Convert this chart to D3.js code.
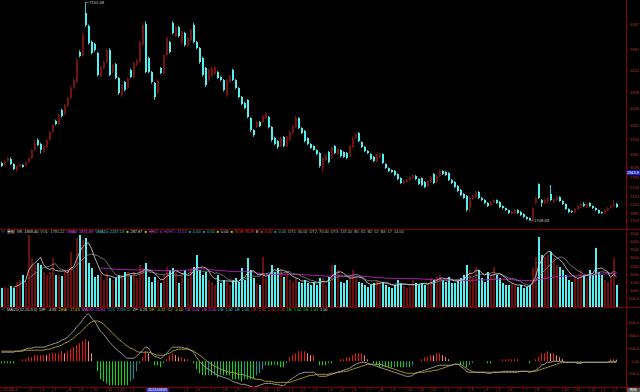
<!DOCTYPE html>
<html><head><meta charset="utf-8">
<script src="https://cdn.jsdelivr.net/npm/d3@7"></script>
<style>html,body{margin:0;padding:0;background:#000;overflow:hidden}text{font-family:'Liberation Sans Narrow','Liberation Sans','Noto Sans CJK SC',sans-serif}</style>
</head><body>
<svg id="c" width="640" height="392"></svg>
<script>
// ---------------- DATA (weekly candles) ----------------
const opens=[3148,3098,3198,3248,3123,2974,3073,3098,3073,3173,
3273,3472,3721,3622,3422,3547,3721,3921,4195,4120,
4469,4369,4568,4768,5017,5167,5914,5814,6886,6562,
6163,6114,5889,5316,5515,5665,5964,5416,5615,5266,
4843,5167,5017,5466,5291,5590,5665,6089,6612,5765,
5416,5142,4892,5515,5391,5839,6163,6637,6313,6537,
6138,6388,6064,6213,6587,6163,6014,5765,5515,5216,
5316,5366,5416,5291,5216,4843,5167,5466,5216,5017,
4793,4643,4718,4269,3970,4045,4170,4170,4269,4294,
4045,3771,3696,3572,3796,3572,3721,3896,4045,4269,
4020,3945,3771,3622,3572,3472,3397,3023,3223,3422,
3273,3572,3372,3472,3422,3397,3322,3547,3771,3896,
3671,3547,3447,3372,3298,3198,3298,3372,3123,3023,
2974,2949,2874,2774,2650,2675,2724,2774,2824,2749,
2774,2675,2575,2675,2874,2675,2824,2949,2924,2899,
2724,2675,2575,2475,2376,2326,2027,2251,2301,2425,
2276,2226,2151,2101,2176,2226,2176,2076,2027,1977,
1877,1902,1977,1927,1877,1802,1777,1728,2151,2625,
2226,2151,2176,2376,2176,2226,2301,2201,2126,2002,
1952,1927,2002,2052,2126,2052,2151,2076,2027,1977,
1927,1902,1977,2027,2076,2126];
const closes=[3073,3198,3273,3123,2999,3073,3123,3048,3173,3273,
3472,3646,3597,3472,3572,3721,3921,4095,4120,4344,
4319,4593,4768,5017,5216,5715,5814,6338,6587,6138,
5889,5964,5341,5540,5665,5964,5341,5590,5266,4892,
5092,4967,5266,5291,5640,5715,6163,6587,5416,5416,
5167,4793,5216,5391,5839,6263,5914,6388,6537,6313,
6413,6089,6263,6462,6163,6014,5665,5341,5092,5466,
5515,5540,5266,5216,4967,5216,5316,5216,5017,4793,
4618,4519,4294,3970,3846,4170,4070,4319,4394,4045,
3721,3622,3547,3771,3572,3796,3921,4070,4269,4020,
3896,3696,3622,3522,3472,3372,3073,3273,3347,3173,
3522,3397,3497,3322,3298,3273,3572,3771,3871,3696,
3547,3447,3397,3248,3198,3347,3372,3148,3023,2949,
2924,2849,2749,2650,2699,2724,2799,2849,2749,2625,
2600,2550,2699,2799,2650,2824,2949,2874,2849,2724,
2650,2550,2450,2351,2276,1977,2276,2326,2425,2276,
2226,2151,2076,2176,2226,2151,2052,2027,1977,1902,
1927,1977,1902,1852,1802,1753,1728,2027,2276,2276,
2151,2226,2276,2226,2251,2301,2201,2126,2002,1927,
1927,2002,2076,2126,2076,2126,2076,2027,1977,1902,
1902,1977,2027,2076,2126,2052];
const highs=[3180,3220,3300,3290,3140,3090,3140,3120,3190,3290,
3500,3720,3760,3650,3600,3740,3950,4120,4230,4370,
4500,4620,4800,5060,5260,5760,5960,6400,7151.08,6600,
6200,6150,5920,5570,5700,6000,6010,5620,5640,5290,
5120,5190,5290,5500,5670,5740,6190,6640,6680,5800,
5440,5170,5240,5540,5870,6290,6190,6680,6570,6560,
6440,6420,6290,6500,6640,6190,6040,5800,5540,5500,
5550,5570,5440,5310,5240,5240,5340,5500,5240,5040,
4820,4670,4740,4290,3990,4200,4190,4350,4420,4320,
4070,3800,3720,3800,3820,3830,3960,4100,4330,4290,
4040,3970,3790,3640,3590,3490,3420,3300,3370,3450,
3550,3600,3520,3490,3440,3420,3600,3810,3900,3920,
3690,3570,3470,3390,3320,3380,3400,3390,3140,3040,
2990,2970,2890,2790,2720,2750,2820,2880,2850,2770,
2790,2700,2720,2830,2900,2850,2990,2970,2950,2920,
2750,2700,2600,2500,2400,2350,2300,2350,2460,2450,
2300,2250,2170,2200,2250,2240,2200,2090,2040,1990,
1950,2000,2000,1950,1890,1820,1790,2050,2300,2640,
2250,2250,2300,2600,2270,2330,2320,2220,2140,2020,
1970,2020,2100,2150,2180,2150,2170,2090,2040,1990,
1940,2000,2050,2100,2226,2150];
const lows=[3050,3080,3180,3100,2970,2930,3050,3030,3060,3160,
3250,3450,3570,3380,3400,3520,3700,3900,4090,4100,
4280,4340,4540,4740,4990,5140,5780,5790,6540,6100,
5850,5920,5300,5290,5490,5640,5310,5380,5230,4850,
4790,4930,4990,5260,5260,5560,5640,6060,5390,5380,
5130,4720,4860,5360,5360,5810,5880,6350,6290,6280,
6100,6050,6030,6190,6130,5980,5620,5300,5040,5190,
5290,5340,5240,5190,4930,4790,5140,5190,4990,4760,
4590,4490,4260,3920,3800,4020,4040,4140,4240,4010,
3680,3590,3500,3540,3540,3540,3690,3870,4010,3990,
3870,3660,3590,3500,3450,3340,3030,2924,3200,3140,
3250,3370,3350,3290,3270,3240,3300,3520,3750,3670,
3520,3420,3370,3220,3170,3170,3270,3120,3000,2920,
2900,2820,2720,2620,2620,2650,2700,2750,2720,2600,
2570,2520,2550,2650,2620,2650,2800,2850,2820,2700,
2620,2520,2420,2320,2250,1940,1930,2230,2280,2250,
2200,2130,2050,2080,2150,2130,2030,2000,1950,1880,
1860,1880,1880,1830,1780,1730,1708.63,1715,2120,2250,
2050,2130,2150,2200,2150,2200,2180,2100,1980,1900,
1900,1910,1980,2030,2050,2030,2050,2000,1950,1880,
1880,1880,1960,2010,2050,2030];
const volumes=[1166,1227,1166,1289,1166,1534,1656,1963,1534,4417,
3006,2577,2699,2577,2147,1963,2147,3006,1963,1963,
1902,2270,2393,3374,2270,4233,4417,4110,4233,2699,
2393,1841,1963,2086,1656,2086,1779,1656,1779,1963,
1963,2147,2147,1963,2147,1779,2577,2393,2699,1841,
1534,1841,1656,1472,1963,2454,2270,2393,2147,1472,
1963,2270,1779,2393,2454,3190,2270,1963,2147,1656,
1534,1350,1963,1472,1656,1534,1350,1656,1779,1534,
2393,1656,3006,2270,1779,1472,1350,3068,1779,1963,
2577,2147,2393,2270,1841,2147,1656,1534,1779,1534,
1472,1656,1472,1350,1534,1350,1779,1779,1350,1841,
2577,2577,2270,1534,1472,1656,1963,2270,1779,1534,
1472,1350,1227,1350,1472,1656,1534,1534,1350,1227,
1166,1350,1656,1472,1350,1166,1227,1656,1472,1350,
1472,1350,1472,1779,1656,1841,1963,1656,1534,1841,
1472,1472,1656,1779,1963,2577,2270,1779,2454,2270,
1779,1534,2147,1963,2454,1963,1779,1472,1350,1350,
1472,1350,1227,1350,1166,1227,1350,2393,3068,4294,
3190,3068,3190,3374,3006,2577,2454,2270,1963,1656,
1534,1841,1779,2270,1963,1779,2270,1963,3620,2147,
1963,1656,1534,1779,3006,1350];
const difValues=[142,142,142,142,142,158,158,173,189,205,
205,221,221,221,221,236,252,268,284,299,
331,347,378,425,472,536,583,646,709,740,
677,630,551,472,425,362,299,252,205,158,
126,79,47,47,47,79,126,173,221,205,
126,79,63,47,79,126,173,221,221,221,
221,205,205,173,142,63,0,-47,-95,-126,
-158,-189,-221,-236,-252,-268,-284,-315,-331,-347,
-362,-362,-378,-394,-410,-394,-378,-362,-347,-347,
-347,-362,-362,-378,-378,-347,-299,-268,-236,-205,
-189,-173,-173,-173,-173,-205,-236,-236,-236,-221,
-205,-189,-173,-158,-142,-126,-110,-79,-47,-32,
-16,-16,-32,-47,-63,-79,-95,-110,-126,-142,
-158,-173,-189,-205,-221,-236,-236,-221,-189,-173,
-158,-142,-126,-110,-95,-79,-63,-63,-63,-63,
-63,-47,-47,-79,-110,-158,-173,-173,-173,-173,
-173,-173,-189,-189,-173,-173,-173,-158,-158,-158,
-158,-158,-158,-158,-158,-158,-173,-158,-142,-110,
-63,-47,-16,-16,0,0,0,0,-16,-16,
-16,-16,-32,-32,-16,-16,-16,-16,-16,-16,
-16,-16,-16,0,0,-4.83];
const deaValues=[158,158,158,158,158,158,158,158,173,173,
173,173,173,173,173,189,189,205,221,236,
252,284,299,331,362,410,441,488,536,583,
614,630,630,614,583,536,488,441,394,347,
315,268,236,205,189,158,142,142,142,142,
126,110,95,95,95,110,126,158,173,189,
189,189,189,173,158,126,95,63,16,-16,
-47,-79,-95,-126,-142,-158,-173,-173,-189,-205,
-205,-221,-236,-252,-268,-284,-284,-299,-315,-315,
-315,-331,-331,-331,-331,-331,-331,-315,-299,-284,
-268,-252,-236,-221,-221,-205,-205,-205,-205,-205,
-189,-189,-173,-173,-158,-158,-142,-126,-110,-95,
-79,-63,-47,-47,-47,-47,-47,-63,-79,-95,
-110,-126,-142,-158,-173,-189,-189,-189,-189,-173,
-173,-173,-158,-158,-142,-142,-126,-110,-95,-79,
-63,-47,-47,-47,-79,-110,-142,-158,-173,-173,
-173,-173,-173,-173,-173,-173,-173,-173,-173,-173,
-173,-173,-173,-158,-158,-158,-158,-158,-158,-142,
-126,-110,-95,-79,-63,-47,-32,-16,-16,-16,
-16,-16,-16,-16,-16,-16,-16,-16,-16,-16,
-16,-16,-16,-16,-16,-17.63];
const priceTicks=[6587,5967,5452,4908,4506,4090,3724,3365,3039,2790,2543,2312,2102,1892,1703];
const volTicks=[4500,4000,3500,3000,2500,2000,1500,1000,500];
const volTickLabels=["4500","4000","3500","3000","2500","2000","1500","1000","500.0"];
const macdTicks=[600,400,200,0,-200];
const macdTickLabels=["600.0","400.0","200.0","0.00","-200.0"];
const monthLabels=["20-03","4","5","6","7","8","9","10","11","12","1","2","3","4","5","6","7","8","9","10","11","12","1","2","3","4","5","6","7","8","9","10","11","12","1","2","3","4","5","6","7","8","9","10","11","12","1","2"];
const highLabel="7151.08", lowLabel="1708.63", lastPrice=2843.8, cursorDate="2021/03/05", cursorIndex=52;
const volLegend=[["⊙","#aaa"],["量能","#ddd"],["VR: 1949.40","#ddd"],["VOL: 1795.22","#bbb"],["VMA5: 1871.69","#e050e0"],["VMA10: 2267.13","#30d0d0"],["■","#cc0"],["287.87","#ddd"],["■","#cc0"],["HHO","#e050e0"],["■","#a0a"],["HZHO: 31.53","#a040c0"],["■","#0aa"],["0.00","#30c0c0"],["■","#0aa"],["0.00","#30c0c0"],["■","#cc0"],["0.00","#ddd"],["■","#cc0"],["ROE","#e03030"],["ROE","#e03030"],["B","#ddd"],["■","#e03030"],["0.00","#e03030"],["■","#0aa"],["0.00","#30c0c0"],["DT1: 30.00","#bbb"],["DT2: 70.00","#bbb"],["DT3: 137.00","#bbb"],["B1: 82","#bbb"],["B2: 52","#bbb"],["B3: 17","#bbb"],["14.00","#bbb"]];
const macdLegend=[["⊙","#aaa"],["MACD(12,26,9,0)","#ccc"],["DIF: -4.83","#ddd"],["DEA: -17.63","#cc0"],["MACD: 25.61","#e050e0"],["TDX: 2288.11","#20a0a0"],["ZF: 0.29","#ddd"],["DF: -0.22","#cc0"],["CJ: -0.00","#cc0"],["LB: 0.00","#e050e0"],["LB: 0.00","#e050e0"],["LB: 1.00","#30d0d0"],["LB: 1.00","#30d0d0"],["LB: 1.00","#e03030"],["1.00","#e03030"],["1.00","#e03030"],["LB: 1.00","#30d030"],["LB: 1.00","#30d030"],["1.00","#ddd"]];

// ---------------- CHART ----------------
const N=closes.length;
const AX=626, RED="#800000";
const svg=d3.select('#c');
svg.append('rect').attr('width',640).attr('height',392).attr('fill','#000');
const defs=svg.append('defs');
function clip(id,x,y,w,h){defs.append('clipPath').attr('id',id).append('rect').attr('x',x).attr('y',y).attr('width',w).attr('height',h);}
clip('cm',0,0,AX,229);clip('cv',0,233,AX,74);clip('cd',0,313,AX,74);

const x=d3.scaleBand().domain(d3.range(N)).range([0,619]).paddingInner(0.34).paddingOuter(0.1).round(true);
const bw=x.bandwidth();
const cx=i=>x(i)+0.5;
const yP=d3.scaleLinear().domain([1703,6587]).range([221,25]);
const yV=d3.scaleLinear().domain([0,4500]).range([307,233.6]);
const yM=d3.scaleLinear().domain([-200,600]).range([374,323]);

const UP="#741111", UPW="#7c1515", DN="#54f0f0", DNW="#3cc4c4";
const idx=d3.range(N);
const isUp=i=>closes[i]>=opens[i];

// main candles
const gm=svg.append('g').attr('clip-path','url(#cm)');
gm.selectAll('line.w').data(idx).join('line')
  .attr('x1',cx).attr('x2',cx).attr('y1',i=>yP(highs[i])).attr('y2',i=>yP(lows[i]))
  .attr('stroke',i=>isUp(i)?UPW:DNW).attr('stroke-width',1);
gm.selectAll('rect.b').data(idx).join('rect')
  .attr('x',i=>x(i)).attr('width',bw)
  .attr('y',i=>yP(Math.max(opens[i],closes[i])))
  .attr('height',i=>Math.max(1,Math.abs(yP(opens[i])-yP(closes[i]))))
  .attr('fill',i=>isUp(i)?UP:DN);

// hi / lo labels
const iHi=d3.maxIndex(highs), iLo=d3.minIndex(lows);
svg.append('line').attr('x1',cx(iHi)).attr('x2',cx(iHi)+3).attr('y1',yP(highs[iHi])).attr('y2',yP(highs[iHi])).attr('stroke','#bbb').attr('stroke-width',0.6);
svg.append('text').attr('x',cx(iHi)+3.5).attr('y',yP(highs[iHi])+1.5).attr('fill','#c8c8c8').attr('font-size',4.2).text(highLabel);
svg.append('line').attr('x1',cx(iLo)).attr('x2',cx(iLo)+4).attr('y1',yP(lows[iLo])).attr('y2',yP(lows[iLo])).attr('stroke','#bbb').attr('stroke-width',0.6);
svg.append('text').attr('x',cx(iLo)+4.5).attr('y',yP(lows[iLo])+1.5).attr('fill','#c8c8c8').attr('font-size',4.2).text(lowLabel);

// volume
const gv=svg.append('g').attr('clip-path','url(#cv)');
gv.selectAll('rect').data(idx).join('rect')
  .attr('x',i=>x(i)).attr('width',bw)
  .attr('y',i=>yV(volumes[i])).attr('height',i=>yV(0)-yV(volumes[i]))
  .attr('fill',i=>isUp(i)?"#6a1010":DN);
function movAvg(n,minN){return idx.map(i=>{const s=Math.max(0,i-n+1);const c=i-s+1;return c<minN?null:d3.mean(volumes.slice(s,i+1));});}
const lineV=d3.line().defined(d=>d[1]!=null).x(d=>cx(d[0])).y(d=>yV(d[1]));
[[movAvg(60,34),"#b020b0",1],[movAvg(10,10),"#8c8c8c",0.8],[movAvg(5,5),"#d8d8d8",0.8]].forEach(([arr,c,w])=>{
  gv.append('path').attr('d',lineV(arr.map((v,i)=>[i,v]))).attr('fill','none').attr('stroke',c).attr('stroke-width',w);
});

// MACD
const hist=idx.map(i=>2*(difValues[i]-deaValues[i]));
const gd=svg.append('g').attr('clip-path','url(#cd)');
gd.selectAll('line').data(idx).join('line')
  .attr('x1',cx).attr('x2',cx).attr('y1',yM(0)).attr('y2',i=>yM(hist[i]))
  .attr('stroke',i=>{const h=hist[i],p=i>0?hist[i-1]:0;return h>=0?(h>=p?"#e01a1a":"#e48a8a"):(h<=p?"#1ad01a":"#1a8c8c");})
  .attr('stroke-width',1.1);
const lineM=d3.line().x(d=>cx(d[0])).y(d=>yM(d[1])).curve(d3.curveMonotoneX);
gd.append('path').attr('d',lineM(deaValues.map((v,i)=>[i,v]))).attr('fill','none').attr('stroke','#b4a62a').attr('stroke-width',0.9);
gd.append('path').attr('d',lineM(difValues.map((v,i)=>[i,v]))).attr('fill','none').attr('stroke','#a8a8a8').attr('stroke-width',0.9);

// frame lines
[229.5,307.5,387.5].forEach(y=>svg.append('line').attr('x1',0).attr('x2',640).attr('y1',y).attr('y2',y).attr('stroke',RED).attr('stroke-width',1));
svg.append('line').attr('x1',AX+0.5).attr('x2',AX+0.5).attr('y1',0).attr('y2',392).attr('stroke',RED).attr('stroke-width',1);

// right axes
const LC="#b23a3a";
function rAxis(scale,ticks,labels){
  const g=svg.append('g');
  ticks.forEach((t,k)=>{
    const y=scale(t);
    g.append('line').attr('x1',AX+1).attr('x2',AX+3).attr('y1',y).attr('y2',y).attr('stroke',RED).attr('stroke-width',0.6);
    g.append('text').attr('x',639).attr('y',y).attr('dy','0.35em').attr('text-anchor','end').attr('fill',LC).attr('font-size',4).text(labels?labels[k]:String(t));
  });
}
rAxis(yP,priceTicks);
rAxis(yV,volTicks,volTickLabels);
rAxis(yM,macdTicks,macdTickLabels);
const yl=yP(lastPrice);
svg.append('rect').attr('x',AX+1).attr('y',yl-5).attr('width',13).attr('height',5).attr('fill','#2222c8');
svg.append('text').attr('x',633).attr('y',yl-2.5).attr('dy','0.35em').attr('text-anchor','middle').attr('fill','#fff').attr('font-size',3.9).text(lastPrice.toFixed(1));

// legends
function legend(tokens,y){let px=1;tokens.forEach(([t,c])=>{const el=svg.append('text').attr('x',px).attr('y',y).attr('fill',c).attr('font-size',3.9).text(t);px+=el.node().getComputedTextLength()+2;});}
legend(volLegend,233.2);
legend(macdLegend,311.4);

// bottom axis
const ga=svg.append('g');
const bx=cx(cursorIndex);
monthLabels.forEach((m,k)=>{
  const i=Math.min(N-1,Math.round(k*4.345));
  const xx=x(i);
  ga.append('line').attr('x1',xx+0.5).attr('x2',xx+0.5).attr('y1',388).attr('y2',392).attr('stroke',RED).attr('stroke-width',0.6);
  if(Math.abs(xx+3-bx)>16) ga.append('text').attr('x',xx+2).attr('y',391.3).attr('fill',LC).attr('font-size',4).text(m);
});
ga.append('rect').attr('x',bx-11).attr('y',388).attr('width',22).attr('height',4).attr('fill','#3a3ab8');
ga.append('text').attr('x',bx).attr('y',391.3).attr('text-anchor','middle').attr('fill','#fff').attr('font-size',3.8).text(cursorDate);
svg.append('rect').attr('x',AX+1).attr('y',388).attr('width',13).attr('height',4).attr('fill','#555');
svg.append('text').attr('x',633).attr('y',391.3).attr('text-anchor','middle').attr('fill','#eee').attr('font-size',3.6).text('周线');
</script>
</body></html>
